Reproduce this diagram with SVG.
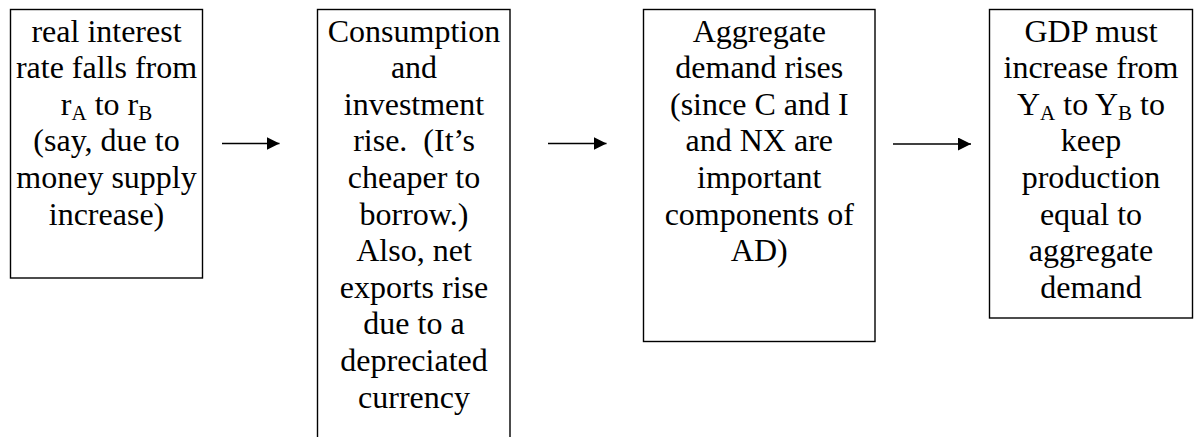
<svg xmlns="http://www.w3.org/2000/svg" width="1195" height="437" viewBox="0 0 1195 437">
<defs>
<style>
.box{fill:#fff;stroke:#000;stroke-width:1.4}
.t{font-family:'Liberation Serif','Times New Roman',Times,serif;font-size:32px;fill:#000;text-anchor:middle;white-space:pre}
.sub{font-size:21px}
.conn{stroke:#000;stroke-width:1.5;fill:none}
</style>
<marker id="ah" markerWidth="14" markerHeight="14" refX="13" refY="6.5" orient="auto" markerUnits="userSpaceOnUse">
<path d="M0,0 L13,6.5 L0,13 Z" fill="#000"/>
</marker>
</defs>
<rect width="1195" height="437" fill="#fff"/>
<g id="node1" font-family="Liberation Serif, Times New Roman, serif">
<rect class="box" x="10.5" y="9.5" width="192" height="268.5"/>
<text class="t" x="106.5" y="41.5">real interest</text>
<text class="t" x="106.5" y="78.1">rate falls from</text>
<text class="t" x="106.5" y="114.7">r<tspan class="sub" dy="5">A</tspan><tspan dy="-5"> to r</tspan><tspan class="sub" dy="5">B</tspan></text>
<text class="t" x="106.5" y="151.3">(say, due to</text>
<text class="t" x="106.5" y="187.9">money supply</text>
<text class="t" x="106.5" y="224.5">increase)</text>
</g>
<g id="node2" font-family="Liberation Serif, Times New Roman, serif">
<rect class="box" x="317.5" y="9.5" width="192.5" height="450"/>
<text class="t" x="414" y="41.5">Consumption</text>
<text class="t" x="414" y="78.1">and</text>
<text class="t" x="414" y="114.7">investment</text>
<text class="t" x="414" y="151.3">rise.  (It’s</text>
<text class="t" x="414" y="187.9">cheaper to</text>
<text class="t" x="414" y="224.5">borrow.)</text>
<text class="t" x="414" y="261.1">Also, net</text>
<text class="t" x="414" y="297.7">exports rise</text>
<text class="t" x="414" y="334.3">due to a</text>
<text class="t" x="414" y="370.9">depreciated</text>
<text class="t" x="414" y="407.5">currency</text>
</g>
<g id="node3" font-family="Liberation Serif, Times New Roman, serif">
<rect class="box" x="643.5" y="9.5" width="231.5" height="332"/>
<text class="t" x="759.3" y="41.5">Aggregate</text>
<text class="t" x="759.3" y="78.1">demand rises</text>
<text class="t" x="759.3" y="114.7">(since C and I</text>
<text class="t" x="759.3" y="151.3">and NX are</text>
<text class="t" x="759.3" y="187.9">important</text>
<text class="t" x="759.3" y="224.5">components of</text>
<text class="t" x="759.3" y="261.1">AD)</text>
</g>
<g id="node4" font-family="Liberation Serif, Times New Roman, serif">
<rect class="box" x="989.5" y="9.5" width="203" height="308.5"/>
<text class="t" x="1091" y="41.5">GDP must</text>
<text class="t" x="1091" y="78.1">increase from</text>
<text class="t" x="1091" y="114.7">Y<tspan class="sub" dy="5">A</tspan><tspan dy="-5"> to Y</tspan><tspan class="sub" dy="5">B</tspan><tspan dy="-5"> to</tspan></text>
<text class="t" x="1091" y="151.3">keep</text>
<text class="t" x="1091" y="187.9">production</text>
<text class="t" x="1091" y="224.5">equal to</text>
<text class="t" x="1091" y="261.1">aggregate</text>
<text class="t" x="1091" y="297.7">demand</text>
</g>
<g id="connectors">
<line class="conn" x1="222" y1="143.5" x2="279.5" y2="143.5" marker-end="url(#ah)"/>
<line class="conn" x1="548" y1="143.5" x2="606.5" y2="143.5" marker-end="url(#ah)"/>
<line class="conn" x1="893" y1="144" x2="971" y2="144" marker-end="url(#ah)"/>
</g>
</svg>
